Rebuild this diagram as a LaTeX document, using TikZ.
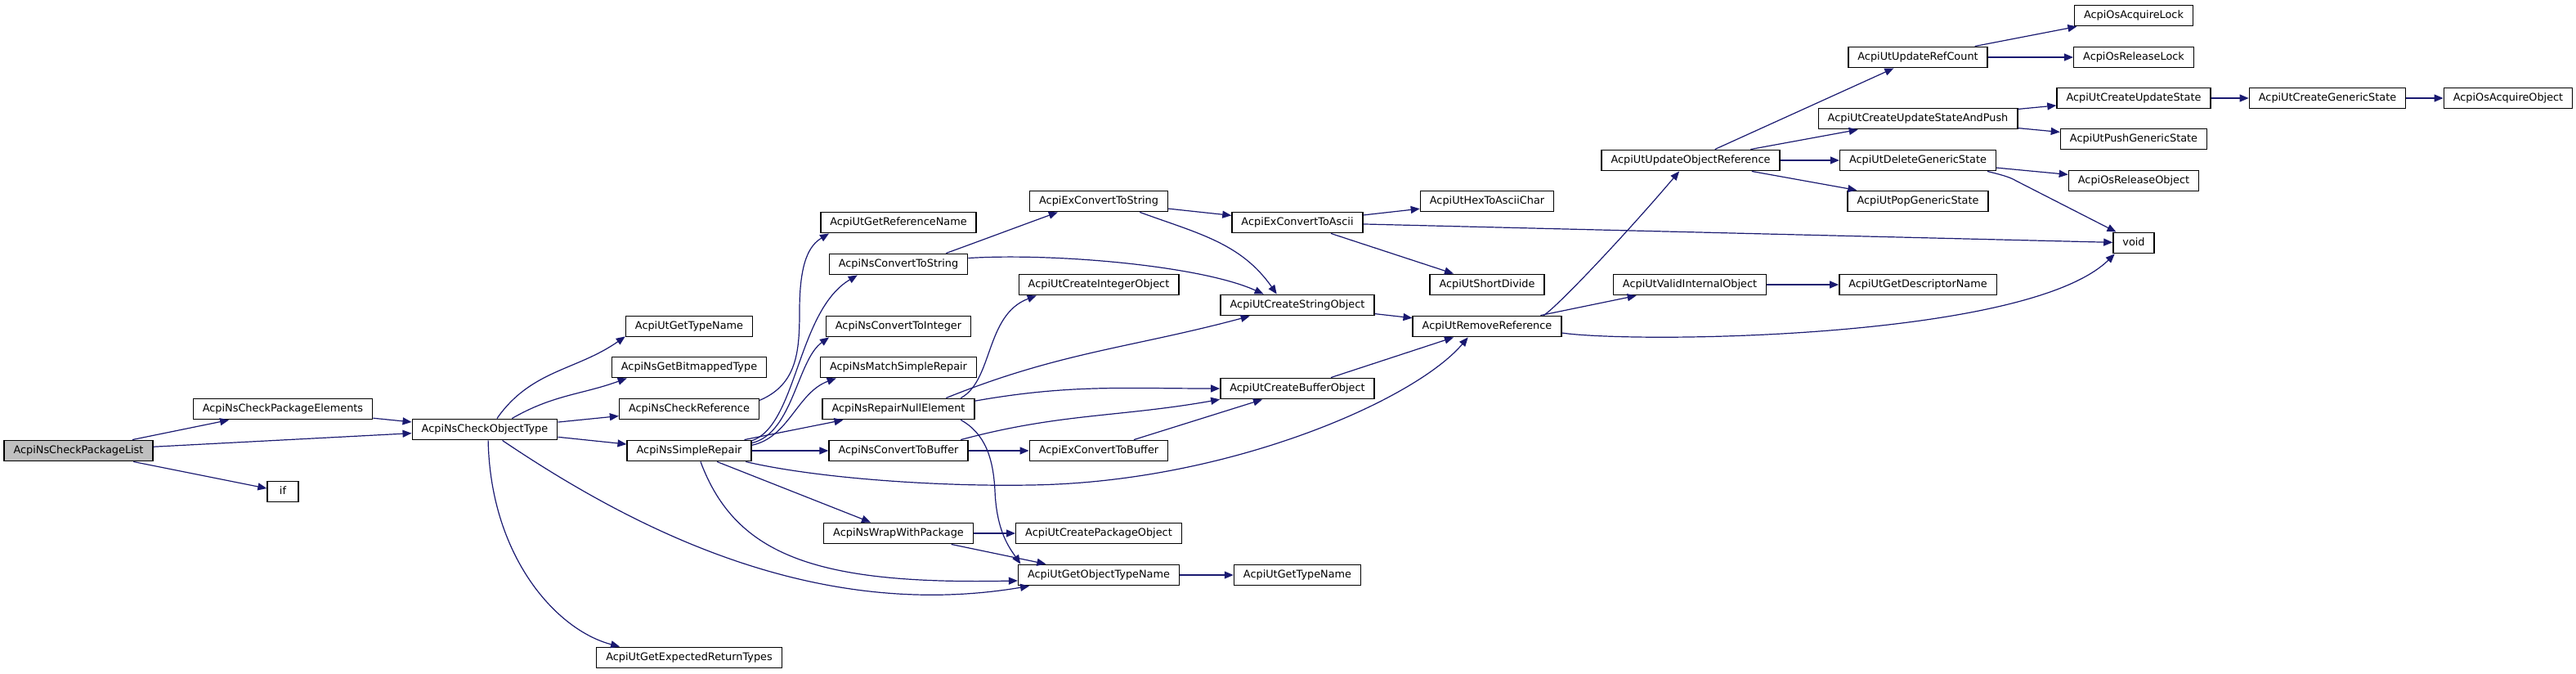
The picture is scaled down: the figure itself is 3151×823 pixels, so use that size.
\documentclass[tikz,border=0pt]{standalone}
\usepackage{fontspec}
\setmainfont{DejaVu Sans}
\usetikzlibrary{arrows.meta}
\definecolor{edgecol}{HTML}{191970}
\definecolor{rootfill}{HTML}{BFBFBF}
\begin{document}
\begin{tikzpicture}[x=1pt,y=1pt,
  box/.style={draw=black, line width=1.4pt, fill=white, minimum height=25.5pt,
    minimum width=38pt, inner xsep=11.5pt, inner ysep=0pt,
    text height=9.6pt, text depth=2.9pt, font=\fontsize{12.85}{15}\selectfont},
  e/.style={draw=edgecol, line width=1.2pt, -{Triangle[length=11pt,width=9pt]}}]
\useasboundingbox (0,0) rectangle (3151,-823);
% nodes
\node[box, fill=rootfill] (PL) at (96,-551) {AcpiNsCheckPackageList};
\node[box] (PE) at (346,-500) {AcpiNsCheckPackageElements};
\node[box] (if) at (346,-601) {if};
\node[box] (OT) at (593,-525) {AcpiNsCheckObjectType};
\node[box] (GTN1) at (843,-399) {AcpiUtGetTypeName};
\node[box] (GBT) at (843,-449) {AcpiNsGetBitmappedType};
\node[box] (CR) at (843,-500) {AcpiNsCheckReference};
\node[box] (SR) at (843,-551) {AcpiNsSimpleRepair};
\node[box] (ERT) at (843,-804) {AcpiUtGetExpectedReturnTypes};
\node[box] (GRN) at (1099,-272) {AcpiUtGetReferenceName};
\node[box] (CTS) at (1099,-323) {AcpiNsConvertToString};
\node[box] (CTI) at (1099,-399) {AcpiNsConvertToInteger};
\node[box] (MSR) at (1099,-449) {AcpiNsMatchSimpleRepair};
\node[box] (RNE) at (1099,-500) {AcpiNsRepairNullElement};
\node[box] (CTB) at (1099,-551) {AcpiNsConvertToBuffer};
\node[box] (WWP) at (1099,-652) {AcpiNsWrapWithPackage};
\node[box] (ECTS) at (1344,-246) {AcpiExConvertToString};
\node[box] (CIO) at (1344,-348) {AcpiUtCreateIntegerObject};
\node[box] (ECTB) at (1344,-551) {AcpiExConvertToBuffer};
\node[box] (CPO) at (1344,-652) {AcpiUtCreatePackageObject};
\node[box] (GOTN) at (1344,-703) {AcpiUtGetObjectTypeName};
\node[box] (ECTA) at (1587,-272) {AcpiExConvertToAscii};
\node[box] (CSO) at (1587,-373) {AcpiUtCreateStringObject};
\node[box] (CBO) at (1587,-475) {AcpiUtCreateBufferObject};
\node[box] (GTN2) at (1587,-703) {AcpiUtGetTypeName};
\node[box] (HTA) at (1819,-246) {AcpiUtHexToAsciiChar};
\node[box] (SD) at (1819,-348) {AcpiUtShortDivide};
\node[box] (RR) at (1819,-399) {AcpiUtRemoveReference};
\node[box] (UOR) at (2068,-196) {AcpiUtUpdateObjectReference};
\node[box] (VIO) at (2067,-348) {AcpiUtValidInternalObject};
\node[box] (URC) at (2346,-70) {AcpiUtUpdateRefCount};
\node[box] (CUSP) at (2346,-145) {AcpiUtCreateUpdateStateAndPush};
\node[box] (DGS) at (2346,-196) {AcpiUtDeleteGenericState};
\node[box] (PGS) at (2346,-246) {AcpiUtPopGenericState};
\node[box] (GDN) at (2346,-348) {AcpiUtGetDescriptorName};
\node[box] (OAL) at (2610,-19) {AcpiOsAcquireLock};
\node[box] (ORL) at (2610,-70) {AcpiOsReleaseLock};
\node[box] (CUS) at (2610,-120) {AcpiUtCreateUpdateState};
\node[box] (PUSH) at (2610,-170) {AcpiUtPushGenericState};
\node[box] (ORO) at (2610,-221) {AcpiOsReleaseObject};
\node[box] (void) at (2610,-297) {void};
\node[box] (CGS) at (2847,-120) {AcpiUtCreateGenericState};
\node[box] (OAO) at (3068,-120) {AcpiOsAcquireObject};
% edges
\draw[e] (PL) -- (PE);
\draw[e] (PL) -- (OT);
\draw[e] (PL) -- (if);
\draw[e] (PE) -- (OT);
\draw[e] (OT.42) to[out=55,in=215] (GTN1.189);
\draw[e] (OT.22) to[out=30,in=200] (GBT.190);
\draw[e] (OT) -- (CR);
\draw[e] (OT) -- (SR);
\draw[e] (OT.-32) .. controls (780,-650) and (1000,-760) .. (GOTN.189);
\draw[e] (OT.-73) .. controls (600,-680) and (680,-770) .. (ERT.171);
\draw[e] (CR.7) .. controls (975,-470) and (978,-430) .. (978,-380) .. controls (978,-320) and (990,-300) .. (GRN.189);
\draw[e] (SR.9) .. controls (975,-520) and (975,-380) .. (CTS.195);
\draw[e] (SR.7) .. controls (970,-530) and (975,-440) .. (CTI.189);
\draw[e] (SR.5) .. controls (965,-535) and (975,-480) .. (MSR.190);
\draw[e] (SR) -- (RNE);
\draw[e] (SR) -- (CTB);
\draw[e] (SR) -- (WWP);
\draw[e] (SR.-44) .. controls (900,-680) and (1000,-715) .. (GOTN.184);
\draw[e] (SR.-11) .. controls (1000,-585) and (1150,-595) .. (1260,-593) .. controls (1500,-590) and (1730,-490) .. (RR.210);
\draw[e] (CTS.13) to[out=20,in=200] (ECTS.195);
\draw[e] (CTS.5) .. controls (1290,-309) and (1470,-325) .. (CSO.162);
\draw[e] (RNE.10) .. controls (1215,-465) and (1205,-385) .. (CIO.190);
\draw[e] (RNE.13) to[out=22,in=195] (CSO.193);
\draw[e] (RNE.6) to[out=10,in=180] (CBO.west);
\draw[e] (RNE.-10) .. controls (1205,-530) and (1215,-560) .. (1217,-600) .. controls (1219,-650) and (1235,-670) .. (GOTN.172);
\draw[e] (CTB.10) to[out=15,in=190] (CBO.188);
\draw[e] (CTB) -- (ECTB);
\draw[e] (ECTB) -- (CBO);
\draw[e] (WWP) -- (CPO);
\draw[e] (WWP) -- (GOTN);
\draw[e] (ECTS) -- (ECTA);
\draw[e] (ECTS.-15) to[out=-20,in=125] (CSO.152);
\draw[e] (GOTN) -- (GTN2);
\draw[e] (ECTA) -- (HTA);
\draw[e] (ECTA) -- (SD);
\draw[e] (ECTA) -- (void);
\draw[e] (CSO) -- (RR);
\draw[e] (CBO) -- (RR);
\draw[e] (RR.11) .. controls (1905,-375) and (1990,-285) .. (UOR.224);
\draw[e] (RR) -- (VIO);
\draw[e] (RR.-5) .. controls (2000,-420) and (2480,-415) .. (void.210);
\draw[e] (VIO) -- (GDN);
\draw[e] (UOR) -- (URC);
\draw[e] (UOR) -- (CUSP);
\draw[e] (UOR) -- (DGS);
\draw[e] (UOR) -- (PGS);
\draw[e] (URC) -- (OAL);
\draw[e] (URC) -- (ORL);
\draw[e] (CUSP) -- (CUS);
\draw[e] (CUSP) -- (PUSH);
\draw[e] (CUS) -- (CGS);
\draw[e] (CGS) -- (OAO);
\draw[e] (DGS) -- (ORO);
\draw[e] (DGS.-9) .. controls (2445,-213) and (2458,-216) .. (2466,-221) -- (void.148);
\end{tikzpicture}
\end{document}
